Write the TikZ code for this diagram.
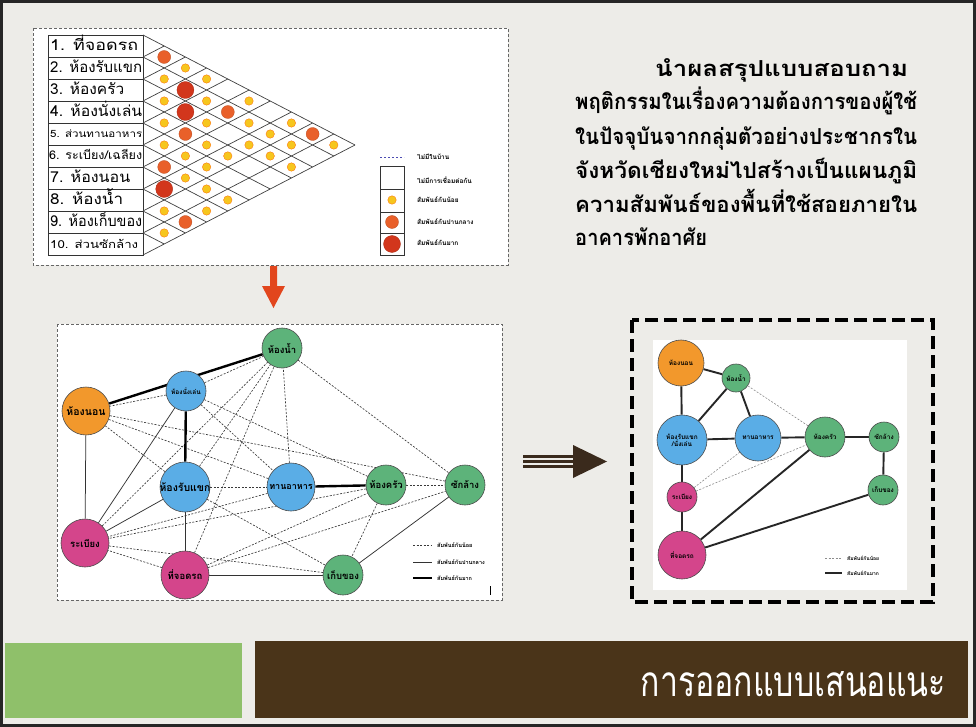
\documentclass[tikz,border=0pt]{standalone}
\usepackage{fontspec}
\usepackage{graphicx}
\newfontfamily\thai[Script=Thai]{Loma}
\pgfdeclarelayer{bg}
\pgfdeclarelayer{edges}
\pgfsetlayers{bg,edges,main}
\definecolor{pagebg}{HTML}{EDECE8}
\definecolor{gnode}{HTML}{5DB37A}
\definecolor{onode}{HTML}{F2982C}
\definecolor{bnode}{HTML}{5AADE6}
\definecolor{mnode}{HTML}{D4458B}
\definecolor{ydot}{HTML}{F6C61E}
\definecolor{odot}{HTML}{E9602A}
\definecolor{rdot}{HTML}{D2361C}
\definecolor{arrowred}{HTML}{E2461D}
\definecolor{darkbrown}{HTML}{4A3419}
\definecolor{lgreen}{HTML}{8FC06A}
\definecolor{arrowdark}{HTML}{3A2A1C}
\tikzset{
  roomA/.style 2 args={circle, draw=black!70, line width=0.6pt, fill=#1, minimum size=#2, inner sep=0pt},
  rlab/.style={font=\thai\bfseries\fontsize{9.5}{9.5}\selectfont, inner sep=0pt, text=black},
  slab/.style={font=\thai\bfseries\fontsize{6.5}{7}\selectfont, inner sep=0pt, text=black, align=center},
  dotS/.style={circle, fill=ydot, draw=orange!80!red, line width=0.3pt, minimum size=8.5pt, inner sep=0pt},
  dotM/.style={circle, fill=odot, draw=odot!80!black, line width=0.3pt, minimum size=13pt, inner sep=0pt},
  dotL/.style={circle, fill=rdot, draw=rdot!80!black, line width=0.3pt, minimum size=17pt, inner sep=0pt},
  weakln/.style={draw=black!78, line width=0.65pt, dash pattern=on 2pt off 1.5pt},
  midln/.style={draw=black!80, line width=0.75pt},
  strongln/.style={draw=black, line width=2.4pt},
  rstrong/.style={draw=black!85, line width=1.9pt},
  rweak/.style={draw=black!45, line width=0.6pt, dash pattern=on 2pt off 1.5pt},
  boxdash/.style={draw=black!60, line width=0.7pt, dash pattern=on 3pt off 2pt},
  rowtxt/.style={anchor=base west, inner sep=0pt, font=\thai\fontsize{15}{15}\selectfont},
  legtxt/.style={anchor=west, inner sep=0pt, font=\thai\bfseries\fontsize{6.5}{7}\selectfont},
  bigtxt/.style={anchor=base west, inner sep=0pt, font=\thai\bfseries\fontsize{22}{22}\selectfont},
}
\begin{document}
\begin{tikzpicture}[x=1pt,y=-1pt]
\useasboundingbox (0,0) rectangle (976,727);
\begin{pgfonlayer}{bg}
\fill[pagebg] (0,0) rectangle (976,727);
\draw[line width=3pt, black!85] (1.5,1.5) rectangle (974.5,725.5);
% top box
\draw[boxdash, fill=white] (33,28) rectangle (508,265);
% middle box
\draw[boxdash, fill=white] (57,324) rectangle (502,600);
% right box
\fill[white] (653,340) rectangle (907,590);
\draw[line width=4.5pt, dash pattern=on 13pt off 6pt] (632,320) rectangle (933,602);
% bottom bars
\fill[lgreen] (5,643) rectangle (242,718);
\fill[darkbrown] (255,641) rectangle (968,718);
\end{pgfonlayer}

% ---------- relationship matrix ----------
\draw[line width=0.8pt, black!80] (48,35) rectangle (143,255);
\foreach \m in {1,...,9} \draw[line width=0.8pt, black!80] (48,{35+22*\m}) -- (143,{35+22*\m});
\foreach \m in {0,...,10} {
  \draw[line width=0.7pt, black!75] (143,{35+22*\m}) -- ++({21.2*(10-\m)},{11*(10-\m)});
  \draw[line width=0.7pt, black!75] (143,{35+22*\m}) -- ++({21.2*\m},{-11*\m});
}
\node[rowtxt] (l1) at (50,51) {\resizebox{88pt}{\height}{1. ที่จอดรถ}};
\node[rowtxt] (l2) at (50,73) {\resizebox{92pt}{\height}{2. ห้องรับแขก}};
\node[rowtxt] (l3) at (50,95) {\resizebox{74pt}{\height}{3. ห้องครัว}};
\node[rowtxt] (l4) at (50,117) {\resizebox{92pt}{\height}{4. ห้องนั่งเล่น}};
\node[rowtxt, font=\thai\fontsize{10}{10}\selectfont] (l5) at (50,138) {\resizebox{92pt}{\height}{5. ส่วนทานอาหาร}};
\node[rowtxt, font=\thai\fontsize{12}{12}\selectfont] (l6) at (49,160) {\resizebox{93pt}{\height}{6. ระเบียง/เฉลียง}};
\node[rowtxt] (l7) at (50,183) {\resizebox{80pt}{\height}{7. ห้องนอน}};
\node[rowtxt] (l8) at (50,205) {\resizebox{73pt}{\height}{8. ห้องน้ำ}};
\node[rowtxt] (l9) at (50,227) {\resizebox{92pt}{\height}{9. ห้องเก็บของ}};
\node[rowtxt, font=\thai\fontsize{11}{11}\selectfont] (l10) at (50,248) {\resizebox{88pt}{\height}{10. ส่วนซักล้าง}};

\foreach \i/\j in {1/3,2/3,1/4,3/4,2/5,1/6,4/5,3/6,2/7,1/8,5/6,4/7,3/8,2/9,1/10,5/7,4/8,3/9,2/8,5/8,3/10,6/8,6/9,6/10,8/9,7/10,9/10}
  \node[dotS] (d\i-\j) at ({143+21.2*(\j-\i)},{35+11*(\i+\j-1)}) {};
\foreach \i/\j in {1/2,2/6,4/6,1/9,6/7,8/10}
  \node[dotM] (d\i-\j) at ({143+21.2*(\j-\i)},{35+11*(\i+\j-1)}) {};
\foreach \i/\j in {2/4,3/5,7/8}
  \node[dotL] (d\i-\j) at ({143+21.2*(\j-\i)},{35+11*(\i+\j-1)}) {};

% matrix legend
\draw[blue!40!gray, line width=0.6pt, dash pattern=on 2pt off 2pt] (380,157) -- (404,157);
\draw[line width=0.7pt, black!80] (380,166) rectangle (404,255);
\foreach \yy in {189,212,233} \draw[line width=0.7pt, black!80] (380,\yy) -- (404,\yy);
\node[dotS] (lg1) at (392,200) {};
\node[dotM] (lg2) at (392,222) {};
\node[dotL] (lg3) at (392,244) {};
\node[legtxt] (lt0) at (417,157) {ไม่มีในบ้าน};
\node[legtxt] (lt1) at (417,180) {ไม่มีการเชื่อมต่อกัน};
\node[legtxt] (lt2) at (417,200) {สัมพันธ์กันน้อย};
\node[legtxt] (lt3) at (417,222) {สัมพันธ์กันปานกลาง};
\node[legtxt] (lt4) at (417,243) {สัมพันธ์กันมาก};

% ---------- description text ----------
\node[bigtxt] (t1) at (655,77) {\resizebox{253pt}{\height}{นำผลสรุปแบบสอบถาม}};
\node[bigtxt] (t2) at (575,110) {\resizebox{342pt}{\height}{พฤติกรรมในเรื่องความต้องการของผู้ใช้}};
\node[bigtxt] (t3) at (575,145) {\resizebox{342pt}{\height}{ในปัจจุบันจากกลุ่มตัวอย่างประชากรใน}};
\node[bigtxt] (t4) at (575,179) {\resizebox{342pt}{\height}{จังหวัดเชียงใหม่ไปสร้างเป็นแผนภูมิ}};
\node[bigtxt] (t5) at (575,213) {\resizebox{342pt}{\height}{ความสัมพันธ์ของพื้นที่ใช้สอยภายใน}};
\node[bigtxt] (t6) at (575,246) {\resizebox{132pt}{\height}{อาคารพักอาศัย}};

% ---------- arrows ----------
\fill[arrowred] (270,266) -- (277,266) -- (277,286) -- (285,286) -- (273.5,308) -- (262,286) -- (270,286) -- cycle;
\foreach \yy in {456.5,461.5,466.5} \draw[arrowdark, line width=2.2pt] (523,\yy) -- (576,\yy);
\fill[arrowdark] (573,445) -- (607,461.5) -- (573,478) -- cycle;

% ---------- middle graph ----------
\node[roomA={gnode}{40pt}, label={[rlab]center:ห้องน้ำ}] (m8) at (282,348) {};
\node[roomA={onode}{48pt}, label={[rlab, font=\thai\bfseries\fontsize{10.5}{10.5}\selectfont]center:ห้องนอน}] (m7) at (86,411) {};
\node[roomA={bnode}{40pt}, label={[rlab, font=\thai\bfseries\fontsize{6.5}{6.5}\selectfont]center:ห้องนั่งเล่น}] (m4) at (186,391) {};
\node[roomA={bnode}{50pt}, label={[rlab, font=\thai\bfseries\fontsize{10.5}{10.5}\selectfont]center:ห้องรับแขก}] (m2) at (185,487) {};
\node[roomA={bnode}{48pt}, label={[rlab, font=\thai\bfseries\fontsize{9}{9}\selectfont]center:ทานอาหาร}] (m5) at (291,487) {};
\node[roomA={gnode}{40pt}, label={[rlab]center:ห้องครัว}] (m3) at (386,485) {};
\node[roomA={gnode}{40pt}, label={[rlab]center:ซักล้าง}] (m10) at (465,485) {};
\node[roomA={mnode}{48pt}, label={[rlab]center:ระเบียง}] (m6) at (85,543) {};
\node[roomA={mnode}{48pt}, label={[rlab]center:ที่จอดรถ}] (m1) at (185,575) {};
\node[roomA={gnode}{40pt}, label={[rlab]center:เก็บของ}] (m9) at (343,575) {};

\begin{pgfonlayer}{edges}
\foreach \a/\b in {m1/m3,m3/m4,m2/m5,m1/m6,m4/m5,m3/m6,m2/m7,m1/m8,m2/m8,m5/m6,m4/m7,m2/m9,m1/m10,m5/m7,m4/m8,m3/m9,m5/m8,m3/m10,m6/m8,m6/m9,m7/m10,m8/m10}
  \draw[weakln] (\a) -- (\b);
\foreach \a/\b in {m6/m7,m4/m6,m2/m6,m1/m2,m1/m9,m9/m10}
  \draw[midln] (\a) -- (\b);
\foreach \a/\b in {m7/m8,m2/m4,m3/m5}
  \draw[strongln] (\a) -- (\b);
\end{pgfonlayer}

% middle legend
\draw[weakln] (413,545) -- (432,545);
\draw[midln] (413,562) -- (432,562);
\draw[strongln] (413,578) -- (432,578);
\node[legtxt, font=\thai\bfseries\fontsize{5.5}{6}\selectfont] (ml1) at (437,545) {สัมพันธ์กันน้อย};
\node[legtxt, font=\thai\bfseries\fontsize{5.5}{6}\selectfont] (ml2) at (437,562) {สัมพันธ์กันปานกลาง};
\node[legtxt, font=\thai\bfseries\fontsize{5.5}{6}\selectfont] (ml3) at (437,578) {สัมพันธ์กันมาก};
\draw[line width=0.8pt] (490,586) -- (490,595);

% ---------- right graph ----------
\node[roomA={onode}{46pt}, label={[slab]center:ห้องนอน}] (r7) at (681,363) {};
\node[roomA={gnode}{28pt}, label={[slab]center:ห้องน้ำ}] (r8) at (736,378) {};
\node[roomA={bnode}{50pt}, label={[slab]center:ห้องรับแขก\\/นั่งเล่น}] (r2) at (682,440) {};
\node[roomA={bnode}{46pt}, label={[slab]center:ทานอาหาร}] (r5) at (758,438) {};
\node[roomA={gnode}{40pt}, label={[slab]center:ห้องครัว}] (r3) at (825,437) {};
\node[roomA={gnode}{30pt}, label={[slab]center:ซักล้าง}] (r10) at (884,437) {};
\node[roomA={gnode}{30pt}, label={[slab]center:เก็บของ}] (r9) at (883,490) {};
\node[roomA={mnode}{30pt}, label={[slab]center:ระเบียง}] (r6) at (682,497) {};
\node[roomA={mnode}{48pt}, label={[slab]center:ที่จอดรถ}] (r1) at (682,555) {};

\begin{pgfonlayer}{edges}
\foreach \a/\b in {r7/r8,r7/r2,r8/r2,r8/r5,r2/r5,r5/r3,r3/r10,r10/r9,r2/r6,r6/r1,r1/r3,r1/r9}
  \draw[rstrong] (\a) -- (\b);
\foreach \a/\b in {r8/r3,r6/r5,r6/r3}
  \draw[rweak] (\a) -- (\b);
\end{pgfonlayer}

\draw[rweak] (825,558) -- (842,558);
\draw[rstrong] (825,573) -- (842,573);
\node[legtxt, font=\thai\bfseries\fontsize{5}{6}\selectfont] (rl1) at (847,558) {สัมพันธ์กันน้อย};
\node[legtxt, font=\thai\bfseries\fontsize{5}{6}\selectfont] (rl2) at (847,573) {สัมพันธ์กันมาก};

% ---------- title ----------
\node[anchor=south east, inner sep=0pt, text=white] (title) at (946,697) {\resizebox{305pt}{25pt}{\thai\fontsize{30}{30}\selectfont การออกแบบเสนอแนะ}};
\end{tikzpicture}
\end{document}
